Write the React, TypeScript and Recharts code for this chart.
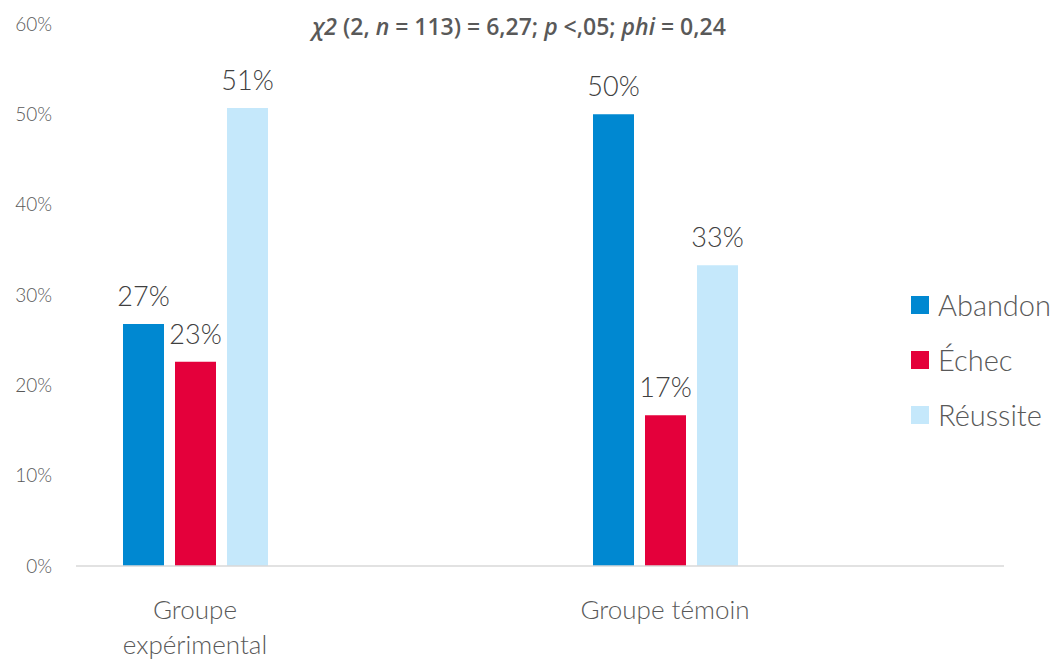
import { Bar, BarChart, LabelList, XAxis, YAxis } from 'recharts';

const groups = ['Groupe expérimental', 'Groupe témoin'];
const abandon = [26.8, 50.0];
const echec = [22.6, 16.7];
const reussite = [50.7, 33.3];
const yTicks = [0, 10, 20, 30, 40, 50, 60];

const series = [
  { key: 'abandon', name: 'Abandon', color: '#0088d1' },
  { key: 'echec', name: 'Échec', color: '#e4003b' },
  { key: 'reussite', name: 'Réussite', color: '#c5e8fb' },
];

const data = groups.map((g, i) => ({
  group: g,
  abandon: abandon[i],
  echec: echec[i],
  reussite: reussite[i],
}));

const FONT = 'Lato, Roboto, "Open Sans", sans-serif';

function GroupTick({ x, y, payload }: any) {
  const words: string[] = payload.value === 'Groupe expérimental' ? ['Groupe', 'expérimental'] : [payload.value];
  return (
    <text x={x} y={y} textAnchor="middle" fill="#595959" fontSize={26} fontFamily={FONT} fontWeight={300}>
      {words.map((w, i) => (
        <tspan key={w} x={x} dy={i === 0 ? 45 : 35}>
          {w}
        </tspan>
      ))}
    </text>
  );
}

function LegendBox() {
  return (
    <div
      style={{
        position: 'absolute',
        left: 911,
        top: 277,
        fontFamily: FONT,
        fontWeight: 300,
        fontSize: 29,
        color: '#595959',
      }}
    >
      {series.map((s) => (
        <div key={s.key} style={{ display: 'flex', alignItems: 'center', height: 55, whiteSpace: 'nowrap' }}>
          <span style={{ width: 18, height: 18, background: s.color, marginRight: 9, display: 'inline-block' }} />
          {s.name}
        </div>
      ))}
    </div>
  );
}

export default function App() {
  return (
    <div style={{ position: 'absolute', left: 0, top: 0, width: 1054, height: 663, background: '#fff' }}>
      <BarChart
        width={1054}
        height={663}
        data={data}
        margin={{ top: 24, right: 50, left: 0, bottom: 0 }}
        barSize={41}
        barGap={11}
      >
        <XAxis
          dataKey="group"
          tick={<GroupTick />}
          tickLine={false}
          axisLine={{ stroke: '#d9d9d9', strokeWidth: 1.5 }}
          padding={{ left: -116, right: 104 }}
          interval={0}
          height={97}
        />
        <YAxis
          domain={[0, 60]}
          ticks={yTicks}
          width={76}
          axisLine={false}
          tickLine={false}
          tickSize={0}
          tickMargin={24}
          tickFormatter={(v: number) => `${v}%`}
          tick={{ fill: '#595959', fontSize: 19, fontFamily: FONT, fontWeight: 300 }}
        />
        {series.map((s) => (
          <Bar key={s.key} dataKey={s.key} name={s.name} fill={s.color} isAnimationActive={false}>
            <LabelList
              dataKey={s.key}
              position="top"
              offset={18}
              formatter={(v: any) => `${Math.round(Number(v))}%`}
              style={{ fill: '#404040', fontSize: 27, fontFamily: FONT, fontWeight: 300 }}
            />
          </Bar>
        ))}
      </BarChart>
      <div
        style={{
          position: 'absolute',
          left: 0,
          width: 1038,
          top: 10,
          textAlign: 'center',
          fontFamily: '"Open Sans", sans-serif',
          fontWeight: 600,
          fontSize: 23,
          color: '#595959',
        }}
      >
        <i>χ2</i> (2, <i>n</i> = 113) = 6,27; <i>p</i> &lt;,05; <i>phi</i> = 0,24
      </div>
      <LegendBox />
    </div>
  );
}
